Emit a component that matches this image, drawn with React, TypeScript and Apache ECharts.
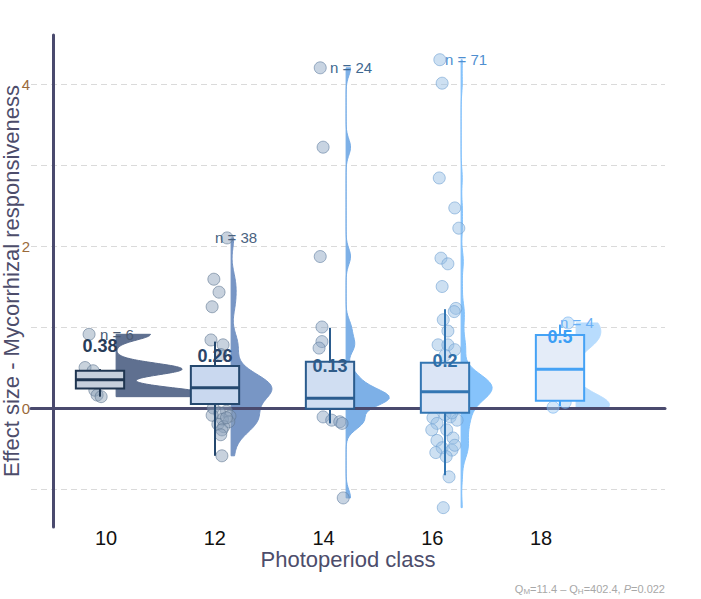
import { useEffect, useRef } from 'react';
import * as echarts from 'echarts';

// ---------- data ----------
const categories = [10, 12, 14, 16, 18];
const nLabels = [6, 38, 24, 71, 4];
const meanLabels = [0.38, 0.26, 0.13, 0.2, 0.5];
const whiskerLow = [0.14, -0.59, -0.19, -0.83, 0.02];
const q1 = [0.24, 0.05, -0.01, -0.06, 0.09];
const medians = [0.35, 0.25, 0.12, 0.2, 0.48];
const q3 = [0.46, 0.52, 0.57, 0.56, 0.9];
const whiskerHigh = [0.48, 0.82, 0.99, 1.22, 1.03];
const yTickLabels = [0, 2, 4];
const yGridValues = [-1, 0, 1, 2, 3, 4];

// points: [jitter, value]
const points10 = [[-0.19, 0.91], [-0.26, 0.5], [-0.12, 0.46], [-0.09, 0.22], [-0.05, 0.16], [0.02, 0.14]];
const points12 = [
  [0.21, 2.1], [-0.02, 1.59], [0.07, 1.43], [-0.05, 1.25], [-0.07, 0.84], [0.14, 0.78], [0.1, 0.66],
  [0.05, 0.14], [-0.15, 0.17], [0.2, 0.19], [-0.08, 0.21], [0.12, 0.24], [-0.2, 0.26], [0.0, 0.29],
  [0.16, 0.31], [-0.1, 0.35], [0.07, 0.4], [-0.04, 0.43], [0.18, 0.15], [-0.18, 0.22], [0.1, 0.37],
  [0.02, 0.28], [-0.12, 0.33], [0.14, 0.2], [-0.06, 0.18],
  [-0.03, 0.0], [0.2, -0.04], [0.08, -0.06], [0.26, -0.1], [0.13, -0.14], [0.24, -0.17], [0.05, -0.2],
  [0.15, -0.23], [0.12, -0.27], [0.2, -0.12], [-0.05, -0.09], [0.1, -0.33], [0.12, -0.59],
];
const points14 = [
  [-0.17, 4.2], [-0.12, 3.22], [-0.17, 1.87], [-0.14, 1.0], [-0.14, 0.82], [-0.19, 0.74],
  [-0.12, -0.11], [0.03, -0.15], [0.17, -0.17], [0.21, -0.19], [0.23, -1.11],
  [0.0, 0.08], [0.1, 0.1], [-0.1, 0.09], [0.2, 0.12], [-0.2, 0.13], [0.05, 0.15], [-0.05, 0.11],
  [0.15, 0.18], [-0.15, 0.22], [0.08, 0.28], [-0.08, 0.35], [0.12, 0.44], [0.02, 0.1],
];
const points16 = [
  [-0.09, 4.3], [-0.05, 4.01], [-0.1, 2.84], [0.17, 2.47], [0.24, 2.22], [-0.07, 1.85], [0.05, 1.78],
  [-0.05, 1.5], [0.19, 1.23], [0.16, 1.19], [-0.03, 1.09], [0.05, 0.95], [-0.12, 0.78], [0.05, 0.78],
  [0.17, 0.72], [0.0, 0.65],
  [-0.21, -0.12], [-0.14, -0.19], [0.09, -0.11], [0.21, -0.15], [-0.23, -0.27], [0.03, -0.27],
  [-0.14, -0.4], [0.14, -0.37], [-0.05, -0.49], [0.12, -0.52], [0.17, -0.46], [0.0, -0.08],
  [0.12, -0.06], [-0.16, -0.55], [0.02, -0.6], [0.07, -0.85], [-0.03, -1.23],
  [0.1, 0.03], [-0.2, 0.05], [0.22, 0.07], [-0.05, 0.08], [0.15, 0.11], [-0.25, 0.12], [0.03, 0.14],
  [0.18, 0.15], [-0.12, 0.17], [0.27, 0.18], [-0.02, 0.2], [0.08, 0.21], [-0.18, 0.22], [0.13, 0.24],
  [-0.08, 0.24], [0.24, 0.25], [0.0, 0.26], [-0.22, 0.27], [0.11, 0.27], [-0.14, 0.28], [0.19, 0.29],
  [0.05, 0.3], [-0.1, 0.31], [0.16, 0.33], [-0.26, 0.35], [0.02, 0.36], [0.21, 0.38], [-0.06, 0.39],
  [0.12, 0.41], [-0.17, 0.43], [0.07, 0.44], [-0.03, 0.46], [0.25, 0.19], [-0.21, 0.23], [0.09, 0.32],
  [-0.11, 0.29], [0.14, 0.26], [-0.07, 0.13],
];
const points18 = [[0.14, 1.05], [0.0, 0.84], [0.09, 0.07], [-0.12, 0.01]];
const groupPoints = [points10, points12, points14, points16, points18];

// ---------- styles ----------
const FONT = '"Liberation Sans", Arial, sans-serif';
const AXIS_COLOR = '#4a4a6e';
const boxFill = ['#c6cfdc', '#c9d8ef', '#d0def2', '#dbe5f6', '#e4ecf8'];
const boxStroke = ['#1f3550', '#25486e', '#2b5c8e', '#3376b3', '#45a2f5'];
const violinFill = ['#56688a', '#7190c2', '#76ace6', '#7fc0fb', '#b4dafd'];
const pointFill = ['rgba(140,160,182,0.6)', 'rgba(140,160,185,0.6)', 'rgba(140,165,195,0.6)', 'rgba(150,190,228,0.6)', 'rgba(160,205,245,0.6)'];
const pointStroke = ['rgba(95,118,145,0.75)', 'rgba(95,118,145,0.75)', 'rgba(95,125,160,0.75)', 'rgba(110,160,210,0.75)', 'rgba(110,175,240,0.75)'];
const meanColor = ['#283c58', '#2a4468', '#2f5b88', '#2f6fa8', '#3a9ef5'];
const nColor = ['#4b5b73', '#4a6280', '#3e6890', '#4f8fd0', '#6ab0f5'];
const violinWidth = [1.6, 0.71, 0.75, 0.54, 0.58];
const bandwidth = [0.07, 0.14, 0.1, 0.12, 0.13];
const VIOLIN_OFFSET = 0.28;
const BOX_HALF = 0.42;

function density(vals: number[], bw: number) {
  const lo = Math.min(...vals);
  const hi = Math.max(...vals);
  const steps = 160;
  const out: number[][] = [];
  for (let i = 0; i <= steps; i++) {
    const y = lo + ((hi - lo) * i) / steps;
    let d = 0;
    for (const v of vals) d += Math.exp(-0.5 * ((y - v) / bw) ** 2);
    out.push([y, d]);
  }
  const m = Math.max(...out.map((p) => p[1]));
  return out.map(([y, d]) => [y, d / m]);
}

export default function App() {
  const ref = useRef<HTMLDivElement>(null);
  useEffect(() => {
    if (!ref.current) return;
    const chart = echarts.init(ref.current, null, { renderer: 'svg' });
    const dens = groupPoints.map((pts, i) => density(pts.map((p) => p[1]), bandwidth[i]));
    const catData = categories.map((c, i) => [c, i]);

    const series: any[] = [];
    series.push({
      type: 'custom',
      name: 'violins',
      xAxisIndex: 0,
      yAxisIndex: 0,
      z: 1,
      data: catData,
      encode: { x: 0, y: 1 },
      renderItem: (params: any, api: any) => {
        const i = api.value(1);
        const x0 = categories[i] + VIOLIN_OFFSET;
        const d = dens[i];
        const pts: number[][] = [];
        pts.push(api.coord([x0, d[0][0]]));
        for (const [y, w] of d) pts.push(api.coord([x0 + w * violinWidth[i], y]));
        pts.push(api.coord([x0, d[d.length - 1][0]]));
        return {
          type: 'polygon',
          shape: { points: pts },
          style: { fill: violinFill[i], stroke: violinFill[i], lineWidth: 1, opacity: 0.95 },
        };
      },
    });
    groupPoints.forEach((pts, i) => {
      series.push({
        type: 'scatter',
        xAxisIndex: 0,
        yAxisIndex: 0,
        z: 3,
        symbolSize: 12,
        itemStyle: { color: pointFill[i], borderColor: pointStroke[i], borderWidth: 1 },
        data: pts.map(([j, v]) => [categories[i] + j, v]),
      });
    });
    series.push({
      type: 'custom',
      name: 'boxes',
      xAxisIndex: 0,
      yAxisIndex: 0,
      z: 4,
      data: catData,
      encode: { x: 0, y: 1 },
      renderItem: (params: any, api: any) => {
        const i = api.value(1);
        const c = categories[i];
        const tl = api.coord([c - BOX_HALF, q3[i]]);
        const br = api.coord([c + BOX_HALF, q1[i]]);
        const mid = api.coord([c, medians[i]]);
        const wl = api.coord([c, whiskerLow[i]]);
        const wh = api.coord([c, whiskerHigh[i]]);
        const stroke = boxStroke[i];
        return {
          type: 'group',
          children: [
            { type: 'line', shape: { x1: wh[0], y1: wh[1], x2: wh[0], y2: tl[1] }, style: { stroke, lineWidth: 2 } },
            { type: 'line', shape: { x1: wl[0], y1: wl[1], x2: wl[0], y2: br[1] }, style: { stroke, lineWidth: 2 } },
            {
              type: 'rect',
              shape: { x: tl[0], y: tl[1], width: br[0] - tl[0], height: br[1] - tl[1] },
              style: { fill: boxFill[i], stroke, lineWidth: 2 },
            },
            { type: 'line', shape: { x1: tl[0], y1: mid[1], x2: br[0], y2: mid[1] }, style: { stroke, lineWidth: 3 } },
          ],
        };
      },
    });
    series.push({
      type: 'custom',
      name: 'labels',
      xAxisIndex: 0,
      yAxisIndex: 0,
      z: 5,
      data: catData,
      encode: { x: 0, y: 1 },
      renderItem: (params: any, api: any) => {
        const i = api.value(1);
        const c = categories[i];
        const vals = groupPoints[i].map((p) => p[1]);
        const top = api.coord([c, Math.max(...vals)]);
        const m = api.coord([c, meanLabels[i]]);
        return {
          type: 'group',
          children: [
            {
              type: 'text',
              x: top[0],
              y: top[1],
              style: {
                text: 'n = ' + nLabels[i],
                fill: nColor[i],
                fontSize: 15,
                fontFamily: FONT,
                align: 'left',
                verticalAlign: 'middle',
              },
            },
            {
              type: 'text',
              x: m[0],
              y: m[1] - 31,
              style: {
                text: String(meanLabels[i]),
                fill: meanColor[i],
                fontSize: 18,
                fontWeight: 'bold',
                fontFamily: FONT,
                align: 'center',
                verticalAlign: 'middle',
              },
            },
          ],
        };
      },
    });

    const option: any = {
      animation: false,
      grid: { left: 31, right: 36, top: 35, bottom: 72, containLabel: false, outerBoundsMode: 'none' },
      xAxis: [
        {
          type: 'value',
          position: 'bottom',
          min: 8.8,
          max: 19.826,
          z: 2,
          axisLine: { show: true, onZero: true, lineStyle: { color: AXIS_COLOR, width: 3 } },
          axisTick: { show: false },
          axisLabel: { show: false },
          splitLine: { show: false },
        },
        {
          type: 'value',
          position: 'bottom',
          min: 8.6207,
          max: 20.28,
          axisLine: { show: false, onZero: false },
          axisTick: { show: false },
          splitLine: { show: false },
          axisLabel: { customValues: categories, fontSize: 20, color: '#111', margin: 1, fontFamily: FONT },
          name: 'Photoperiod class',
          nameLocation: 'middle',
          nameGap: 21,
          nameMoveOverlap: false,
          nameTextStyle: { fontSize: 22, color: '#4d4d6b', fontFamily: FONT },
        },
      ],
      yAxis: {
        type: 'value',
        min: -1.469,
        max: 4.605,
        offset: -22,
        axisLine: { show: true, onZero: false, lineStyle: { color: AXIS_COLOR, width: 3 } },
        axisTick: { show: false, customValues: yGridValues },
        axisLabel: { customValues: yTickLabels, margin: 23, color: '#9a6a3a', fontSize: 15, fontFamily: FONT },
        splitLine: { show: true, lineStyle: { type: [6, 4], color: '#dadada', width: 1 } },
        name: 'Effect size - Mycorrhizal responsiveness',
        nameLocation: 'middle',
        nameGap: 31,
        nameMoveOverlap: false,
        nameTextStyle: { fontSize: 22, color: '#4d4d6b', fontFamily: FONT },
      },
      graphic: [
        {
          type: 'text',
          right: 36,
          top: 583,
          style: {
            text: '{a|Q}{s|M}{a|=11.4 – Q}{s|H}{a|=402.4, }{i|P}{a|=0.022}',
            fill: '#a8a8a8',
            fontFamily: FONT,
            rich: {
              a: { fontSize: 11, fill: '#a8a8a8', lineHeight: 14, fontFamily: FONT },
              s: { fontSize: 8, fill: '#a8a8a8', lineHeight: 8, verticalAlign: 'bottom', fontFamily: FONT },
              i: { fontSize: 11, fill: '#a8a8a8', fontStyle: 'italic', lineHeight: 14, fontFamily: FONT },
            },
          },
        },
      ],
      series,
    };
    chart.setOption(option);
    return () => chart.dispose();
  }, []);
  return (
    <div
      ref={ref}
      style={{ position: 'fixed', left: 0, top: 0, width: 701, height: 599, background: '#fff' }}
    />
  );
}
